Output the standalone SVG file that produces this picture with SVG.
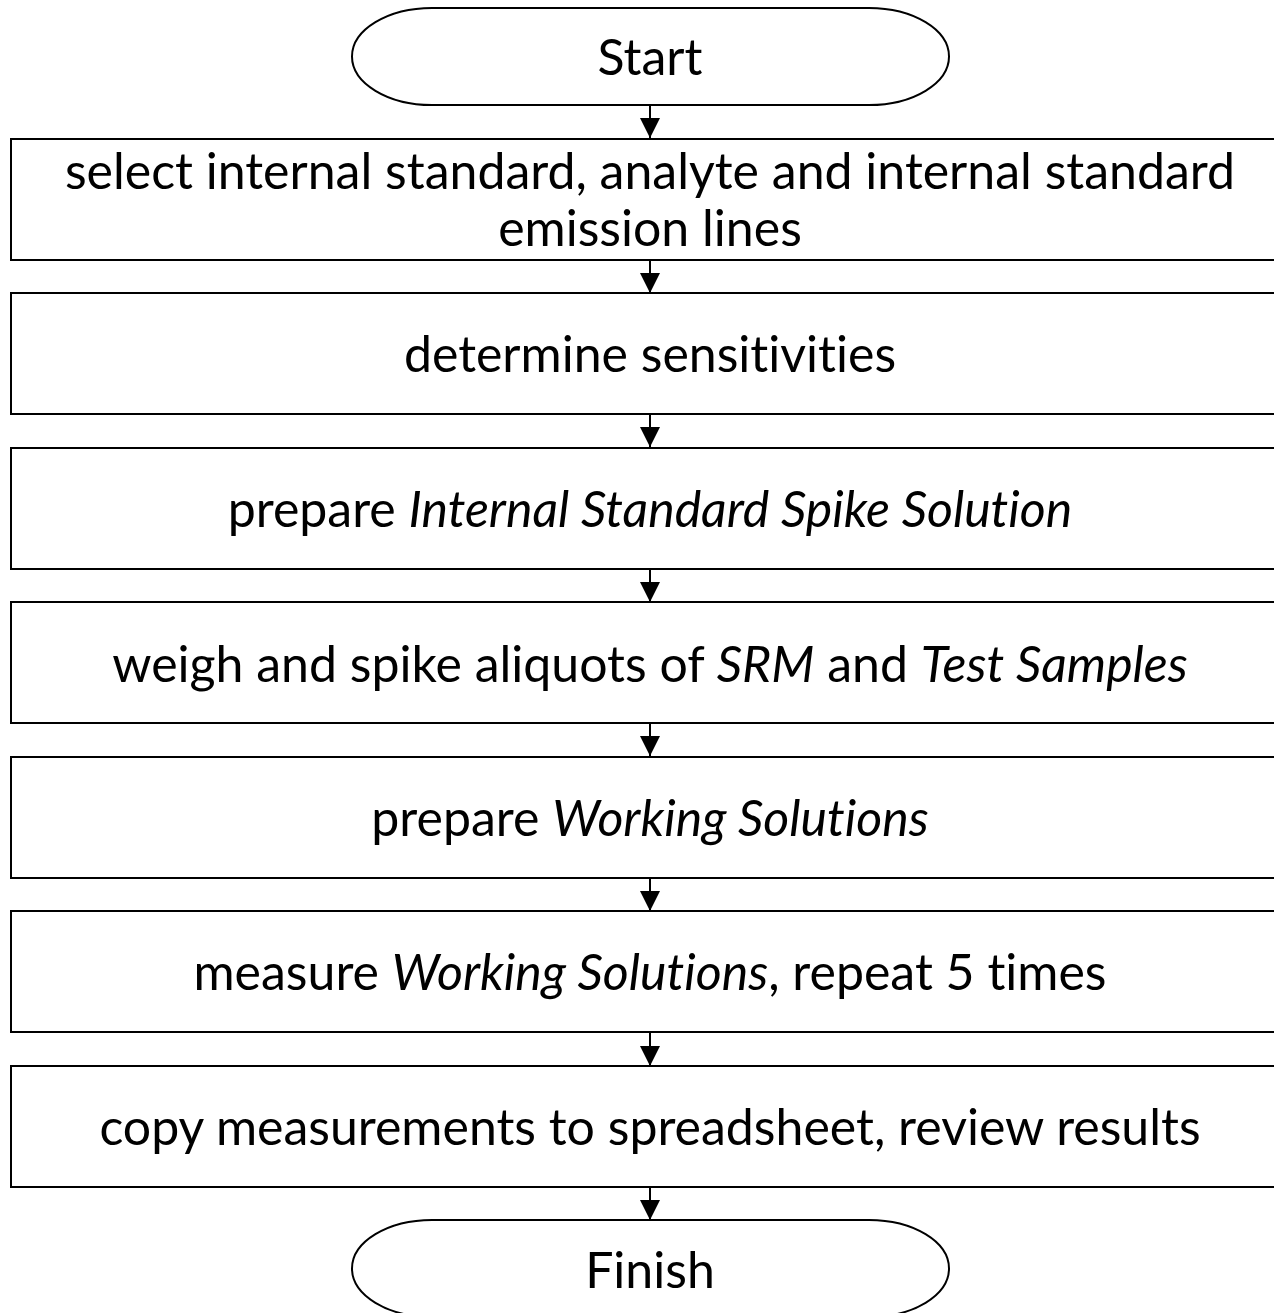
<svg xmlns="http://www.w3.org/2000/svg" width="1274" height="1313" viewBox="0 0 1274 1313">
<defs>
<style>
.box{fill:#fff;stroke:#000;stroke-width:2}
.term{fill:#fff;stroke:#000;stroke-width:2}
.lbl{font-family:Lato,"DejaVu Sans",sans-serif;font-size:50px;fill:#000;text-anchor:middle;font-variant-ligatures:none;font-feature-settings:"liga" 0,"clig" 0}
.it{font-style:italic}
.con{stroke:#000;stroke-width:2;fill:none}
</style>
<marker id="ah" markerUnits="userSpaceOnUse" markerWidth="20" markerHeight="20" refX="20" refY="10" orient="auto">
<path d="M0,0 L20,10 L0,20 Z" fill="#000"/>
</marker>
</defs>
<rect width="1274" height="1313" fill="#fff"/>
<g id="connectors">
<line class="con" x1="650" y1="105" x2="650" y2="138" marker-end="url(#ah)"/>
<line class="con" x1="650" y1="260" x2="650" y2="293" marker-end="url(#ah)"/>
<line class="con" x1="650" y1="414" x2="650" y2="447" marker-end="url(#ah)"/>
<line class="con" x1="650" y1="569" x2="650" y2="602" marker-end="url(#ah)"/>
<line class="con" x1="650" y1="723" x2="650" y2="756" marker-end="url(#ah)"/>
<line class="con" x1="650" y1="878" x2="650" y2="911" marker-end="url(#ah)"/>
<line class="con" x1="650" y1="1032" x2="650" y2="1066" marker-end="url(#ah)"/>
<line class="con" x1="650" y1="1187" x2="650" y2="1220" marker-end="url(#ah)"/>
</g>
<g id="start">
<rect class="term" x="352" y="8" width="597" height="97" rx="80" ry="48.5"/>
<text class="lbl" x="650" y="75">Start</text>
</g>
<g id="step1">
<rect class="box" x="11" y="139" width="1280" height="121"/>
<text class="lbl" x="650" y="189">select internal standard, analyte and internal standard</text>
<text class="lbl" x="650" y="246">emission lines</text>
</g>
<g id="step2">
<rect class="box" x="11" y="293" width="1280" height="121"/>
<text class="lbl" x="650" y="372">determine sensitivities</text>
</g>
<g id="step3">
<rect class="box" x="11" y="448" width="1280" height="121"/>
<text class="lbl" x="650" y="527">prepare <tspan class="it">Internal Standard Spike Solution</tspan></text>
</g>
<g id="step4">
<rect class="box" x="11" y="602" width="1280" height="121"/>
<text class="lbl" x="650" y="682">weigh and spike aliquots of <tspan class="it">SRM</tspan> and <tspan class="it">Test Samples</tspan></text>
</g>
<g id="step5">
<rect class="box" x="11" y="757" width="1280" height="121"/>
<text class="lbl" x="650" y="836">prepare <tspan class="it">Working Solutions</tspan></text>
</g>
<g id="step6">
<rect class="box" x="11" y="911" width="1280" height="121"/>
<text class="lbl" x="650" y="990">measure <tspan class="it">Working Solutions</tspan>, repeat 5 times</text>
</g>
<g id="step7">
<rect class="box" x="11" y="1066" width="1280" height="121"/>
<text class="lbl" x="650" y="1145">copy measurements to spreadsheet, review results</text>
</g>
<g id="finish">
<rect class="term" x="352" y="1220" width="597" height="97" rx="80" ry="48.5"/>
<text class="lbl" x="650" y="1288">Finish</text>
</g>
</svg>
